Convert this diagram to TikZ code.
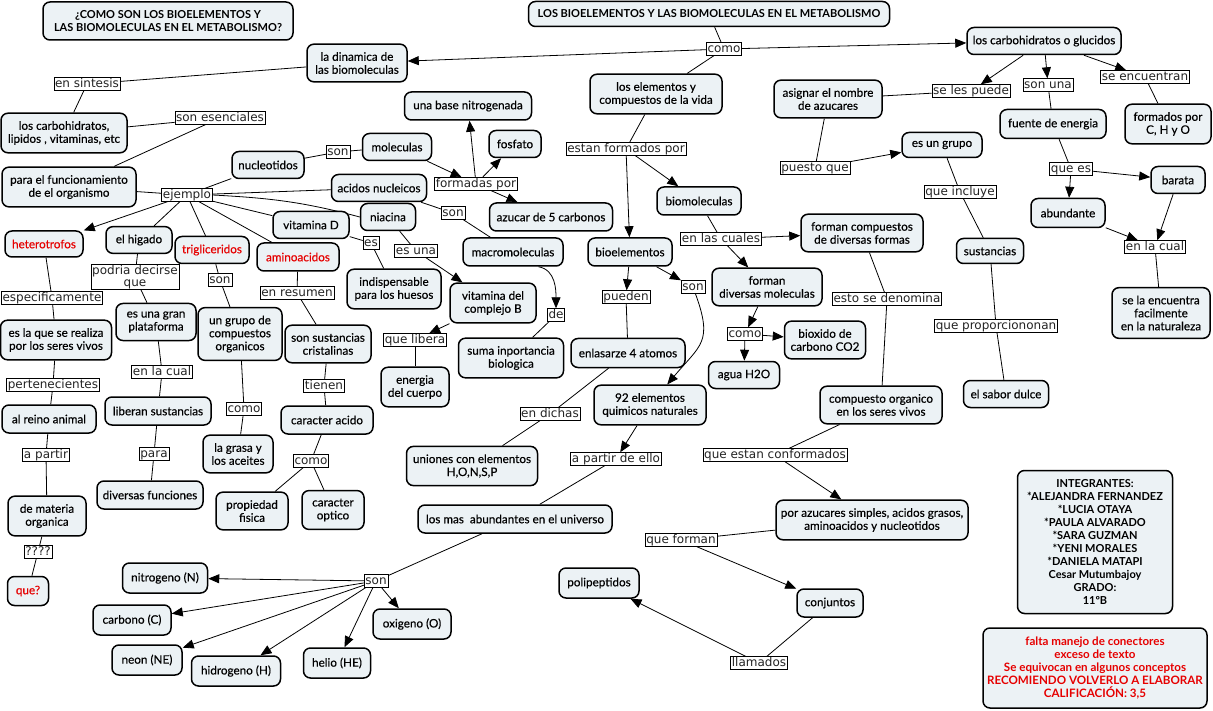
\documentclass[tikz,border=0pt]{standalone}
\usepackage{fontspec}
\setmainfont{Lato}
\newfontfamily\conceptfont{Lato}[FakeBold=0.35]
\newfontfamily\linkfont{DejaVu Sans}
\usepackage{tikz}
\usetikzlibrary{arrows.meta}
\definecolor{ConceptFill}{RGB}{236, 242, 245}
\definecolor{LinkText}{RGB}{35, 35, 35}
\definecolor{NoteRed}{RGB}{230, 0, 0}
\pgfdeclarelayer{links}
\pgfsetlayers{links,main}
\tikzset{
    concept/.style={rectangle, draw=black, line width=1.5pt, fill=ConceptFill, rounded corners=7pt,
        align=center, inner xsep=3pt, inner ysep=8pt, minimum height=28pt, font=\conceptfont\fontsize{11.7}{13}\selectfont},
    headline/.style={concept, font=\bfseries\fontsize{11}{13}\selectfont},
    linkword/.style={rectangle, draw=black, line width=0.6pt, fill=white, align=center,
        inner xsep=1.2pt, inner ysep=0.6pt, text=LinkText, text height=9pt, text depth=2.6pt,
        font=\linkfont\fontsize{12}{12.5}\selectfont},
    joint/.style={draw=black, line width=0.8pt},
    pointer/.style={joint, -{Triangle[length=11pt, width=9pt]}}
}

\begin{document}
\begin{tikzpicture}[x=1pt, y=-1pt]
    \useasboundingbox (0,0) rectangle (1213,711);

    % conceptos
    \node[headline, minimum width=250pt, minimum height=38pt] (pregunta) at (168,21) {¿COMO SON LOS BIOELEMENTOS Y\\LAS BIOMOLECULAS EN EL METABOLISMO?};
    \node[headline, minimum width=361pt, minimum height=25pt, inner ysep=4pt] (tema) at (709,14) {LOS BIOELEMENTOS Y LAS BIOMOLECULAS EN EL METABOLISMO};
    \node[concept, minimum width=100pt] (dinamica) at (357,63) {la dinamica de\\las biomoleculas};
    \node[concept, minimum width=126pt] (grupos) at (64,133) {los carbohidratos,\\lipidos , vitaminas, etc};
    \node[concept, minimum width=134pt] (funcion) at (69,187) {para el funcionamiento\\de el organismo};
    \node[concept, minimum width=72pt, minimum height=27pt] (nucleotidos) at (268,165) {nucleotidos};
    \node[concept, minimum width=69pt, minimum height=27pt] (moleculas) at (397,147) {moleculas};
    \node[concept, minimum width=95pt, minimum height=27pt] (acidos) at (379,188) {acidos nucleicos};
    \node[concept, minimum width=55pt, minimum height=27pt] (niacina) at (388,217) {niacina};
    \node[concept, minimum width=76pt, minimum height=27pt] (vitD) at (311,225) {vitamina D};
    \node[concept, text=NoteRed, minimum width=78pt, minimum height=26pt] (heterotrofos) at (44,244) {heterotrofos};
    \node[concept, minimum width=66pt, minimum height=26pt] (higado) at (139,240) {el higado};
    \node[concept, text=NoteRed, minimum width=74pt, minimum height=27pt] (trigliceridos) at (212,250) {trigliceridos};
    \node[concept, text=NoteRed, minimum width=82pt] (aminoacidos) at (298,257) {aminoacidos};
    \node[concept, minimum width=94pt] (indispensable) at (394,289) {indispensable\\para los huesos};
    \node[concept, minimum width=86pt] (complejoB) at (493,303) {vitamina del\\complejo B};
    \node[concept, minimum width=100pt] (macromoleculas) at (513,252) {macromoleculas};
    \node[concept, minimum width=84pt] (bioelementos) at (630,252) {bioelementos};
    \node[concept, minimum width=84pt] (biomoleculas) at (699,201) {biomoleculas};
    \node[concept, minimum width=132pt] (elementos) at (656,94) {los elementos y\\compuestos de la vida};
    \node[concept, minimum width=127pt] (base) at (468,106) {una base nitrogenada};
    \node[concept, minimum width=52pt, minimum height=27pt] (fosfato) at (515,144) {fosfato};
    \node[concept, minimum width=123pt] (azucar) at (551,217) {azucar de 5 carbonos};
    \node[concept, minimum width=122pt] (formasDiv) at (862,233) {forman compuestos\\de diversas formas};
    \node[concept, minimum width=110pt] (moleculasDiv) at (767,287) {forman\\diversas moleculas};
    \node[concept, minimum width=81pt] (bioxido) at (825,340) {bioxido de\\carbono CO2};
    \node[concept, minimum width=71pt, minimum height=27pt] (agua) at (744,375) {agua H2O};
    \node[concept, minimum width=114pt, minimum height=29pt] (enlazar) at (628,353) {enlasarze 4 atomos};
    \node[concept, minimum width=105pt] (importancia) at (511,358) {suma inportancia\\biologica};
    \node[concept, minimum width=68pt] (energia) at (415,387) {energia\\del cuerpo};
    \node[concept, minimum width=112pt] (quimicos) at (650,405) {92 elementos\\quimicos naturales};
    \node[concept, minimum width=131pt] (uniones) at (472,466) {uniones con elementos\\H,O,N,S,P};
    \node[concept, minimum width=194pt] (abundantes) at (515,519) {los mas\ \ abundantes en el universo};
    \node[concept, minimum width=122pt] (organico) at (881,405) {compuesto organico\\en los seres vivos};
    \node[concept, minimum width=192pt] (simples) at (872,520) {por azucares simples, acidos grasos,\\aminoacidos y nucleotidos};
    \node[concept, minimum width=66pt] (conjuntos) at (830,603) {conjuntos};
    \node[concept, minimum width=80pt, minimum height=30pt] (polipeptidos) at (599,583) {polipeptidos};
    \node[concept, minimum width=85pt, minimum height=30pt] (nitrogeno) at (165,578) {nitrogeno (N)};
    \node[concept, minimum width=78pt, minimum height=30pt] (carbono) at (132,620) {carbono (C)};
    \node[concept, minimum width=70pt, minimum height=30pt] (neon) at (147,660) {neon (NE)};
    \node[concept, minimum width=89pt, minimum height=30pt] (hidrogeno) at (236,671) {hidrogeno (H)};
    \node[concept, minimum width=67pt, minimum height=30pt] (helio) at (337,663) {helio (HE)};
    \node[concept, minimum width=78pt, minimum height=30pt] (oxigeno) at (412,624) {oxigeno (O)};
    \node[concept, minimum width=78pt] (materia) at (47,516) {de materia\\organica};
    \node[concept, text=NoteRed, minimum width=41pt, minimum height=29pt] (quePreg) at (28,591) {que?};
    \node[concept, minimum width=106pt] (funciones) at (150,495) {diversas funciones};
    \node[concept, minimum width=72pt] (fisica) at (252,511) {propiedad\\fisica};
    \node[concept, minimum width=62pt] (optico) at (333,510) {caracter\\optico};
    \node[concept, minimum width=70pt] (grasa) at (238,454) {la grasa y\\los aceites};
    \node[concept, minimum width=92pt] (acido) at (327,420) {caracter acido};
    \node[concept, minimum width=86pt] (cristalinas) at (328,344) {son sustancias\\cristalinas};
    \node[concept, minimum width=84pt] (compuestos) at (240,334) {un grupo de\\compuestos\\organicos};
    \node[concept, minimum width=80pt] (plataforma) at (156,322) {es una gran\\plataforma};
    \node[concept, minimum width=106pt] (liberan) at (158,411) {liberan sustancias};
    \node[concept, minimum width=111pt] (realiza) at (56,340) {es la que se realiza\\por los seres vivos};
    \node[concept, minimum width=94pt] (reino) at (49,419) {al reino animal};
    \node[concept, minimum width=154pt, minimum height=27pt] (glucidos) at (1044,41) {los carbohidratos o glucidos};
    \node[concept, minimum width=108pt] (azucares) at (828,99) {asignar el nombre\\de azucares};
    \node[concept, minimum width=106pt, minimum height=29pt] (fuente) at (1053,124) {fuente de energia};
    \node[concept, minimum width=86pt] (cho) at (1168,124) {formados por\\C, H y O};
    \node[concept, minimum width=80pt, minimum height=25pt] (grupo) at (942,145) {es un grupo};
    \node[concept, minimum width=54pt, minimum height=27pt] (barata) at (1178,180) {barata};
    \node[concept, minimum width=74pt, minimum height=29pt] (abundante) at (1068,213) {abundante};
    \node[concept, minimum width=67pt, minimum height=25pt] (sustancias) at (990,251) {sustancias};
    \node[concept, minimum width=98pt] (naturaleza) at (1161,313) {se la encuentra\\facilmente\\en la naturaleza};
    \node[concept, minimum width=85pt, minimum height=27pt] (dulce) at (1006,394) {el sabor dulce};
    \node[headline, minimum width=155pt, minimum height=143pt] (integrantes) at (1095,542) {INTEGRANTES:\\*ALEJANDRA FERNANDEZ\\*LUCIA OTAYA\\*PAULA ALVARADO\\*SARA GUZMAN\\*YENI MORALES\\*DANIELA MATAPI\\Cesar Mutumbajoy\\GRADO:\\11ºB};
    \node[headline, text=NoteRed, minimum width=224pt, minimum height=80pt, font=\bfseries\fontsize{11.6}{13}\selectfont] (nota) at (1095,668) {falta manejo de conectores\\exceso de texto\\Se equivocan en algunos conceptos\\RECOMIENDO VOLVERLO A ELABORAR\\CALIFICACIÓN: 3,5};

    % palabras de enlace
    \node[linkword] (lkComo) at (724,49) {como};
    \node[linkword] (lkSintesis) at (87,84) {en sintesis};
    \node[linkword] (lkEsenciales) at (220,118) {son esenciales};
    \node[linkword] (lkSonMol) at (338,152) {son};
    \node[linkword] (lkEjemplo) at (187,195) {ejemplo};
    \node[linkword] (lkFormadas) at (476,184) {formadas por};
    \node[linkword] (lkSonMacro) at (453,213) {son};
    \node[linkword] (lkEs) at (371,243) {es};
    \node[linkword] (lkEsUna) at (416,251) {es una};
    \node[linkword] (lkEstan) at (626,149) {estan formados por};
    \node[linkword] (lkPuede) at (971,91) {se les puede};
    \node[linkword] (lkSonUna) at (1048,85) {son una};
    \node[linkword] (lkEncuentran) at (1145,77) {se encuentran};
    \node[linkword] (lkPuesto) at (815,168) {puesto que};
    \node[linkword] (lkIncluye) at (960,192) {que incluye};
    \node[linkword] (lkQueEs) at (1071,169) {que es};
    \node[linkword] (lkCualR) at (1155,247) {en la cual};
    \node[linkword] (lkCuales) at (721,239) {en las cuales};
    \node[linkword] (lkDenomina) at (887,299) {esto se denomina};
    \node[linkword] (lkProporc) at (996,326) {que proporciononan};
    \node[linkword] (lkPueden) at (626,297) {pueden};
    \node[linkword] (lkSonElem) at (693,287) {son};
    \node[linkword] (lkDe) at (556,315) {de};
    \node[linkword] (lkLibera) at (415,340) {que libera};
    \node[linkword] (lkComoMol) at (745,334) {como};
    \node[linkword] (lkDichas) at (550,414) {en dichas};
    \node[linkword] (lkPartirEllo) at (616,459) {a partir de ello};
    \node[linkword] (lkConformados) at (775,455) {que estan conformados};
    \node[linkword] (lkForman) at (681,540) {que forman};
    \node[linkword] (lkLlamados) at (759,663) {llamados};
    \node[linkword] (lkSonAtomos) at (376,581) {son};
    \node[linkword] (lkDuda) at (38,552) {????};
    \node[linkword] (lkPartir) at (46,455) {a partir};
    \node[linkword] (lkPertenecientes) at (53,385) {pertenecientes};
    \node[linkword] (lkEspecif) at (52,298) {especificamente};
    \node[linkword, text height=, text depth=] (lkPodria) at (135,277) {podria decirse\\que};
    \node[linkword] (lkSonGrupo) at (220,280) {son};
    \node[linkword] (lkResumen) at (297,293) {en resumen};
    \node[linkword] (lkCualL) at (162,372) {en la cual};
    \node[linkword] (lkComoGrasa) at (244,409) {como};
    \node[linkword] (lkPara) at (154,454) {para};
    \node[linkword] (lkTienen) at (324,386) {tienen};
    \node[linkword] (lkComoAcido) at (311,461) {como};

    \begin{pgfonlayer}{links}
        \fill[white] (0,0) rectangle (1213,711);
        % lineas sin flecha
        \foreach \a/\b in {tema/lkComo, lkComo/elementos, dinamica/lkSintesis, lkSintesis/grupos,
            grupos/lkEsenciales, lkEsenciales/funcion, funcion/lkEjemplo, lkEjemplo/nucleotidos,
            lkEjemplo/acidos, lkEjemplo/vitD, lkEjemplo/higado, lkEjemplo/trigliceridos,
            lkEjemplo/aminoacidos, nucleotidos/lkSonMol, lkSonMol/moleculas, acidos/lkSonMacro,
            lkSonMacro/macromoleculas, vitD/lkEs, lkEs/indispensable, niacina/lkEsUna,
            lkLibera/energia, lkDe/importancia, elementos/lkEstan, biomoleculas/lkCuales,
            formasDiv/lkDenomina, lkDenomina/organico, organico/lkConformados, simples/lkForman,
            conjuntos/lkLlamados, lkPueden/enlazar, enlazar/lkDichas, lkDichas/uniones,
            lkPartirEllo/abundantes, abundantes/lkSonAtomos, lkPuede/azucares, lkSonUna/fuente,
            lkEncuentran/cho, azucares/lkPuesto, grupo/lkIncluye, lkIncluye/sustancias,
            sustancias/lkProporc, lkProporc/dulce, fuente/lkQueEs, lkCualR/naturaleza,
            heterotrofos/lkEspecif, lkEspecif/realiza, realiza/lkPertenecientes,
            lkPertenecientes/reino, reino/lkPartir, lkPartir/materia, materia/lkDuda,
            lkDuda/quePreg, higado/lkPodria, lkPodria/plataforma, plataforma/lkCualL,
            lkCualL/liberan, liberan/lkPara, lkPara/funciones, trigliceridos/lkSonGrupo,
            lkSonGrupo/compuestos, compuestos/lkComoGrasa, lkComoGrasa/grasa,
            aminoacidos/lkResumen, lkResumen/cristalinas, cristalinas/lkTienen, lkTienen/acido,
            acido/lkComoAcido, lkComoAcido/fisica, lkComoAcido/optico}
            \draw[joint] (\a) -- (\b);
        \draw[joint] (lkEjemplo.east) to[out=-3, in=165] (niacina.west);

        % lineas con flecha
        \foreach \a/\b in {lkComo/dinamica, lkComo/glucidos, lkEjemplo/heterotrofos,
            moleculas/lkFormadas, lkFormadas/base, lkFormadas/fosfato, lkFormadas/azucar,
            lkEsUna/complejoB, complejoB/lkLibera, lkEstan/bioelementos, lkEstan/biomoleculas,
            lkCuales/formasDiv, lkCuales/moleculasDiv, moleculasDiv/lkComoMol, lkComoMol/agua,
            lkComoMol/bioxido, lkConformados/simples, lkForman/conjuntos, lkLlamados/polipeptidos,
            bioelementos/lkPueden, bioelementos/lkSonElem, quimicos/lkPartirEllo,
            glucidos/lkPuede, glucidos/lkSonUna, glucidos/lkEncuentran, lkPuesto/grupo,
            lkQueEs/abundante, lkQueEs/barata, abundante/lkCualR, barata/lkCualR}
            \draw[pointer] (\a) -- (\b);
        \foreach \elem in {nitrogeno, carbono, neon, hidrogeno, helio, oxigeno}
            \draw[pointer] (lkSonAtomos) -- (\elem);
        \draw[pointer] (macromoleculas.-30) to[out=-10, in=90] (lkDe.north);
        \draw[pointer] (lkSonElem) to[out=-70, in=50, looseness=1.4] (quimicos);
    \end{pgfonlayer}
\end{tikzpicture}
\end{document}
